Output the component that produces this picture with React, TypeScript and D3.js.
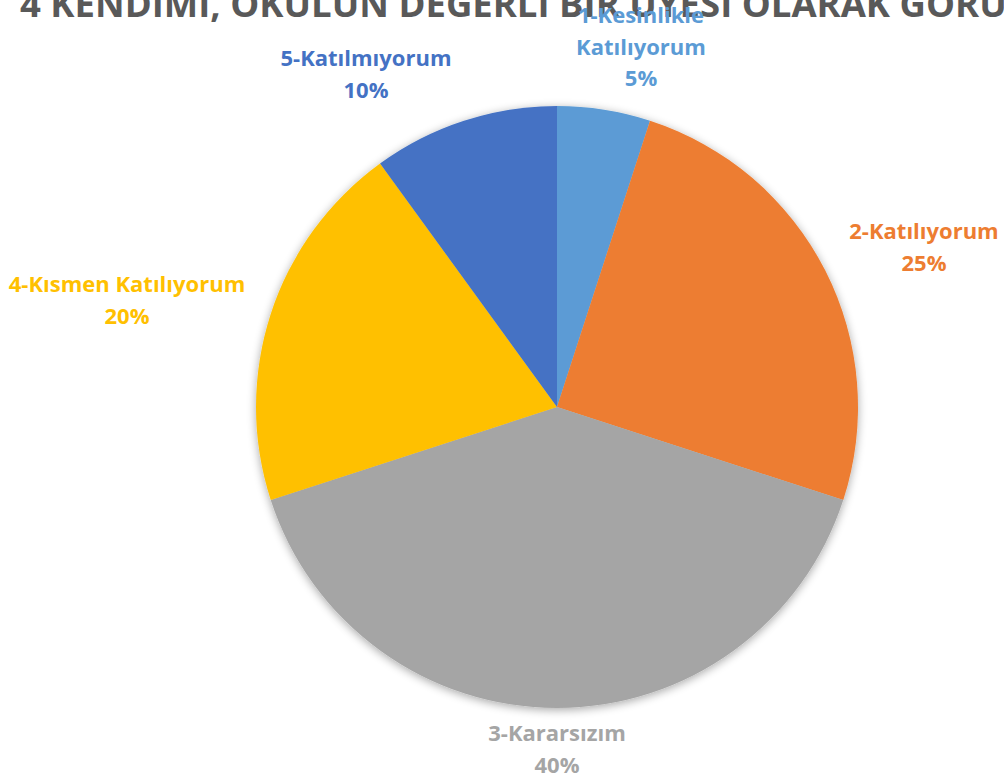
import React from "react";
import * as d3 from "d3";

const categories = ["1-Kesinlikle Katılıyorum", "2-Katılıyorum", "3-Kararsızım", "4-Kısmen Katılıyorum", "5-Katılmıyorum"];
const values = [5, 25, 40, 20, 10];
const colors = ["#5B9BD5", "#ED7D31", "#A5A5A5", "#FFC000", "#4472C4"];
const labelLines = [["1-Kesinlikle", "Katılıyorum"], ["2-Katılıyorum"], ["3-Kararsızım"], ["4-Kısmen Katılıyorum"], ["5-Katılmıyorum"]];
const title = "4 KENDİMİ, OKULUN DEĞERLİ BİR ÜYESİ OLARAK GÖRÜYORUM";

// label layout (centre x, first line y)
const labelPos = [[641, 23], [924, 239], [557, 741], [127, 292], [366, 66]];

const W = 1004, H = 780;
const cx = 557, cy = 407, R = 301;
const lineH = 31.5;

export default function App() {
  const pie = d3.pie<number>().value(d => d).sort(null).startAngle(0).endAngle(2 * Math.PI);
  const arcs = pie(values);
  const arc = d3.arc<d3.PieArcDatum<number>>().innerRadius(0).outerRadius(R);
  const total = d3.sum(values);
  const fmt = d3.format(".0%");
  return (
    <svg width={W} height={H} style={{ position: "absolute", left: 0, top: 0, background: "#fff" }}>
      <defs>
        <filter id="sh" x="-20%" y="-20%" width="140%" height="140%">
          <feGaussianBlur in="SourceAlpha" stdDeviation="5" />
          <feOffset dx="0" dy="2" result="b" />
          <feComponentTransfer><feFuncA type="linear" slope="0.35" /></feComponentTransfer>
          <feMerge><feMergeNode /><feMergeNode in="SourceGraphic" /></feMerge>
        </filter>
      </defs>
      <g transform={`translate(${cx},${cy})`} filter="url(#sh)">
        {arcs.map((a, i) => (
          <path key={i} d={arc(a) || ""} fill={colors[i]} />
        ))}
      </g>
      <text x={20} y={17} fontFamily="'Open Sans', sans-serif" fontWeight="bold" fontSize={36.5} fill="#595959">{title}</text>
      {arcs.map((a, i) => {
        const [x, y] = labelPos[i];
        const lines = [...labelLines[i], fmt(values[i] / total)];
        return (
          <text key={i} x={x} y={y} textAnchor="middle" fontFamily="'Open Sans', sans-serif" fontWeight="bold" fontSize={22} fill={colors[i]}>
            {lines.map((l, j) => (
              <tspan key={j} x={x} y={y + j * lineH}>{l}</tspan>
            ))}
          </text>
        );
      })}
    </svg>
  );
}
